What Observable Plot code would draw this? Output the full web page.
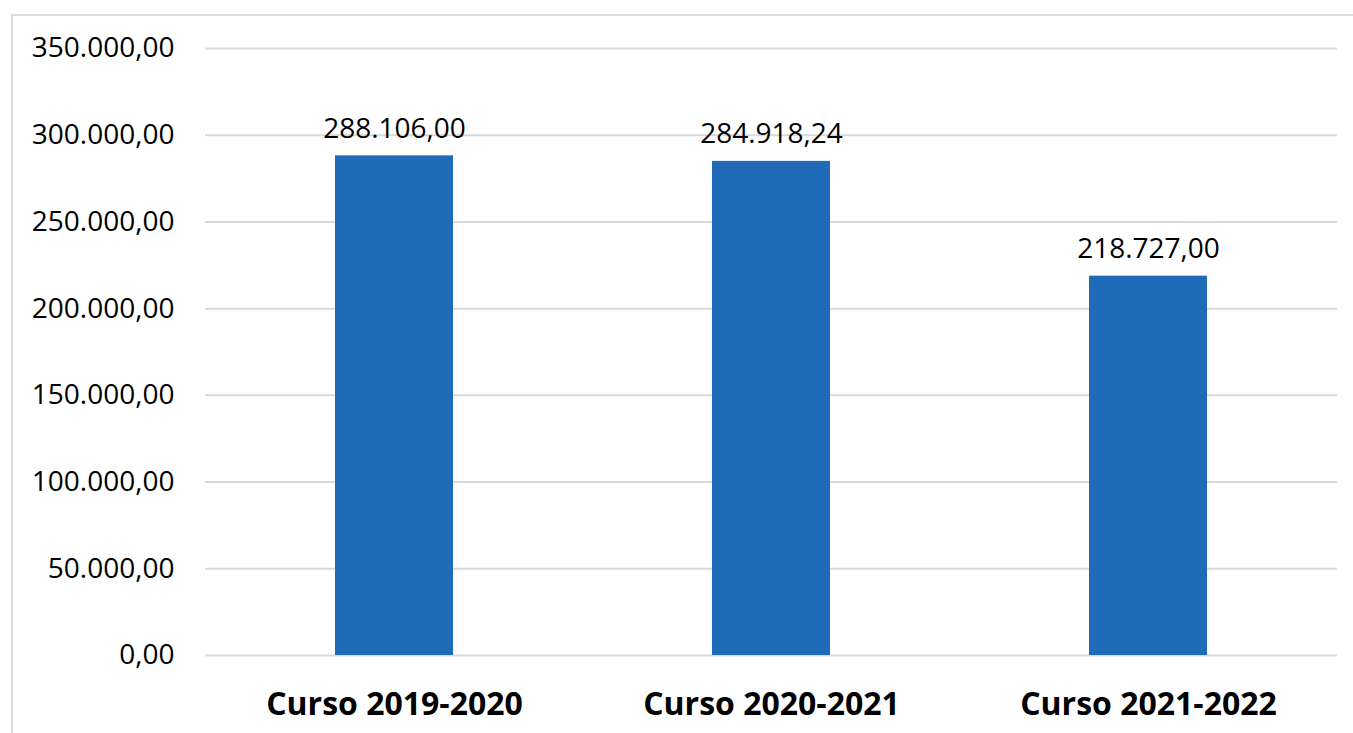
<!DOCTYPE html>
<html>
<head>
<meta charset="utf-8">
<script src="https://cdn.jsdelivr.net/npm/d3@7"></script>
<script src="https://cdn.jsdelivr.net/npm/@observablehq/plot@0.6"></script>
<style>
  html, body { margin: 0; padding: 0; background: #ffffff; }
  #wrap { position: relative; width: 1353px; height: 733px; overflow: hidden; }
  #frame { position: absolute; left: 11px; top: 14px; width: 1345px; height: 740px; border: 2px solid #dcdcdc; box-sizing: border-box; pointer-events: none; }
  svg { font-family: "Open Sans", sans-serif; }
</style>
</head>
<body>
<div id="wrap"><div id="frame"></div></div>
<script>
const categories = ["Curso 2019-2020", "Curso 2020-2021", "Curso 2021-2022"];
const values = [288106.00, 284918.24, 218727.00];
const yTicks = [0, 50000, 100000, 150000, 200000, 250000, 300000, 350000];

const data = categories.map((c, i) => ({category: c, value: values[i]}));
const es = d3.formatLocale({decimal: ",", thousands: ".", grouping: [3], currency: ["", "€"]});
const fmt = es.format(",.2f");

const chart = Plot.plot({
  width: 1353,
  height: 733,
  marginLeft: 205,
  marginRight: 16,
  marginTop: 48,
  marginBottom: 78,
  style: {fontFamily: "'Open Sans', sans-serif", background: "transparent"},
  x: {domain: categories, paddingInner: 0.687, paddingOuter: 0.3435, label: null},
  y: {domain: [0, 350000], ticks: yTicks, label: null},
  marks: [
    Plot.gridY(yTicks, {stroke: "#d9d9d9", strokeOpacity: 1, strokeWidth: 2}),
    Plot.axisY(yTicks, {tickSize: 0, tickPadding: 31, tickFormat: fmt, fontSize: 28, fill: "#000", label: null}),
    Plot.axisX({tickSize: 0, tickPadding: 37, fontSize: 32, fontWeight: "bold", fill: "#000", label: null}),
    Plot.barY(data, {x: "category", y: "value", fill: "#1f6bb8"}),
    Plot.text(data, {x: "category", y: "value", text: d => fmt(d.value), dy: -27, fontSize: 28, fill: "#000"})
  ]
});
document.getElementById("wrap").prepend(chart);
</script>
</body>
</html>
